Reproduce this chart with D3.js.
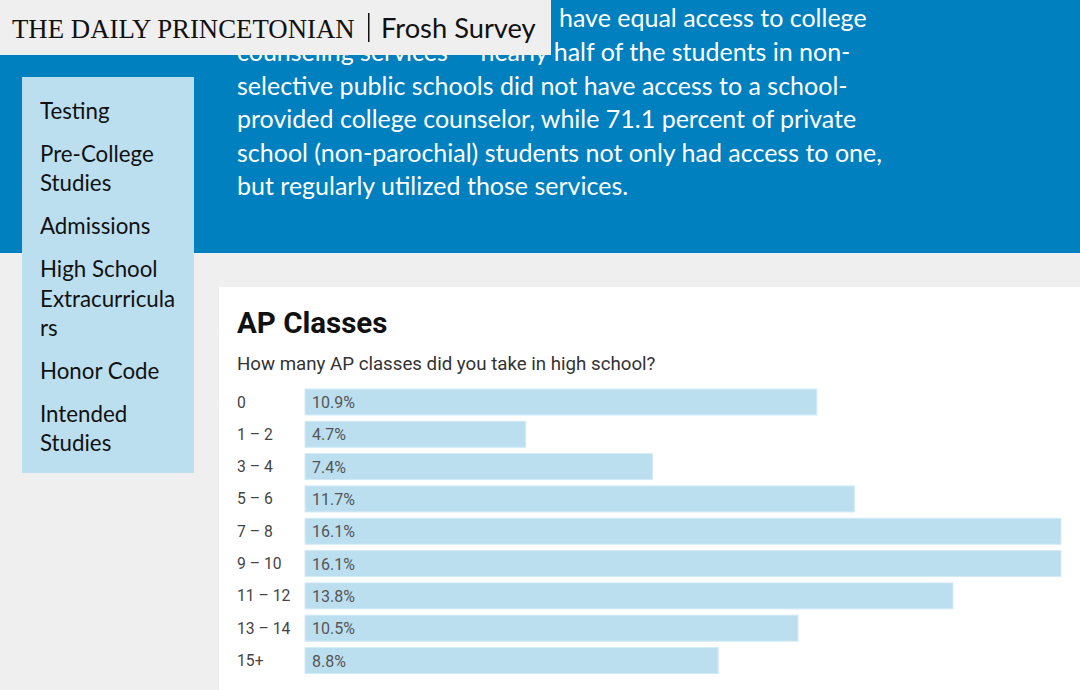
<!DOCTYPE html>
<html><head><meta charset="utf-8">
<script src="https://cdn.jsdelivr.net/npm/d3@7"></script>
<style>
html,body{margin:0;padding:0;background:#efefef;overflow:hidden;}
svg{display:block;}
</style></head>
<body>
<div id="chart"></div>
<script>
const categories = ["0","1 – 2","3 – 4","5 – 6","7 – 8","9 – 10","11 – 12","13 – 14","15+"];
const values = [10.9, 4.7, 7.4, 11.7, 16.1, 16.1, 13.8, 10.5, 8.8];
const valueLabels = ["10.9%","4.7%","7.4%","11.7%","16.1%","16.1%","13.8%","10.5%","8.8%"];
const chartTitle = "AP Classes";
const chartQuestion = "How many AP classes did you take in high school?";
const navItems = [["Testing"],["Pre-College","Studies"],["Admissions"],["High School","Extracurricula","rs"],["Honor Code"],["Intended","Studies"]];
const introLines = ["counseling services — nearly half of the students in non-",
  "selective public schools did not have access to a school-",
  "provided college counselor, while 71.1 percent of private",
  "school (non-parochial) students not only had access to one,",
  "but regularly utilized those services."];
const introFirst = "have equal access to college";

const W = 1080, H = 690;
const svg = d3.select("#chart").append("svg").attr("width", W).attr("height", H);
const sans = "'Lato', 'Open Sans', sans-serif";
const rob = "Roboto, 'Noto Sans', sans-serif";

// background
svg.append("rect").attr("width", W).attr("height", H).attr("fill", "#efefef");
// blue band
svg.append("rect").attr("x", 0).attr("y", 0).attr("width", W).attr("height", 253).attr("fill", "#0180c0");

// intro text (second line is partly hidden under the header box, as in the page)
const intro = svg.append("g").attr("fill", "#fff").attr("font-family", sans).attr("font-size", 25);
intro.append("text").attr("x", 559).attr("y", 27).text(introFirst);
introLines.forEach((t, i) => {
  intro.append("text").attr("x", 237).attr("y", 61 + i * 33.6).text(t);
});

// header box
svg.append("rect").attr("x", 0).attr("y", 0).attr("width", 551).attr("height", 55).attr("fill", "#efefef");
svg.append("text").attr("x", 12).attr("y", 38).attr("font-size", 26.8).attr("fill", "#111")
  .attr("font-family", "'Liberation Serif', 'DejaVu Serif', serif").text("THE DAILY PRINCETONIAN");
svg.append("rect").attr("x", 368).attr("y", 13).attr("width", 1.5).attr("height", 29).attr("fill", "#111");
svg.append("text").attr("x", 381).attr("y", 38).attr("font-size", 27.3).attr("fill", "#111")
  .attr("font-family", sans).text("Frosh Survey");

// nav
svg.append("rect").attr("x", 22).attr("y", 77).attr("width", 172).attr("height", 396).attr("fill", "#bcdff0");
const nav = svg.append("g").attr("font-family", sans).attr("font-size", 22.3).attr("fill", "#111");
let ny = 119;
navItems.forEach(lines => {
  lines.forEach(l => {
    nav.append("text").attr("x", 40).attr("y", ny).text(l);
    ny += 29.3;
  });
  ny += 13.7;
});

// card
svg.append("rect").attr("x", 219).attr("y", 287).attr("width", 861).attr("height", 403).attr("fill", "#fff");
svg.append("text").attr("x", 237).attr("y", 333).attr("font-family", rob).attr("font-weight", 700)
  .attr("font-size", 29.5).attr("fill", "#111").text(chartTitle);
svg.append("text").attr("x", 237).attr("y", 370).attr("font-family", rob)
  .attr("font-size", 18.7).attr("fill", "#333").text(chartQuestion);

// bars
const x = d3.scaleLinear().domain([0, d3.max(values)]).range([305, 1061]);
const y = d3.scaleBand().domain(categories).range([389, 673.5]).paddingInner(0.195).paddingOuter(0);
const rows = svg.append("g").selectAll("g").data(categories).join("g");
rows.append("rect")
  .attr("x", x(0)).attr("y", d => y(d))
  .attr("width", (d, i) => x(values[i]) - x(0)).attr("height", y.bandwidth())
  .attr("fill", "#bcdff0").attr("stroke", "#d3ebf7").attr("stroke-width", 1);
rows.append("text").attr("x", 237).attr("y", d => y(d) + y.bandwidth() / 2)
  .attr("dy", "0.35em").attr("font-family", rob).attr("font-size", 15.7).attr("fill", "#444").text(d => d);
rows.append("text").attr("x", 312).attr("y", d => y(d) + y.bandwidth() / 2)
  .attr("dy", "0.38em").attr("font-family", rob).attr("font-size", 16).attr("fill", "#555").text((d, i) => valueLabels[i]);
</script>
</body></html>
